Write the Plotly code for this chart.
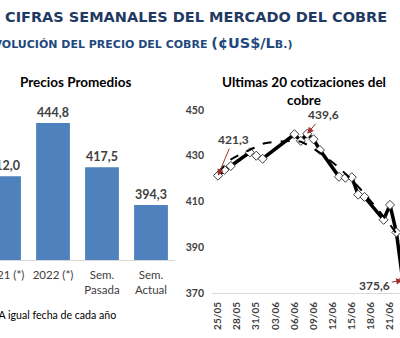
import plotly.graph_objects as go

# ---- data ----
bar_categories = ["2021 (*)", "2022 (*)", "Sem.<br>Pasada", "Sem.<br>Actual"]
bar_values = [412.0, 444.8, 417.5, 394.3]

dates = ["2022-05-25", "2022-05-26", "2022-05-27", "2022-05-30", "2022-05-31",
         "2022-06-01", "2022-06-06", "2022-06-07", "2022-06-08", "2022-06-09",
         "2022-06-10", "2022-06-13", "2022-06-14", "2022-06-15", "2022-06-16",
         "2022-06-17", "2022-06-20", "2022-06-21", "2022-06-22", "2022-06-23"]
prices = [421.3, 423.8, 425.5, 431.5, 430.0, 428.7, 439.4, 436.5, 439.6, 437.2,
          432.5, 420.8, 420.4, 420.6, 413.0, 412.0, 402.0, 408.5, 396.5, 375.6]
trend = [422.6, 425.6, 428.3, 432.6, 433.9, 435.2, 436.5, 436.1, 434.8, 433.1,
         431.3, 424.8, 422.1, 419.5, 416.5, 413.4, 403.4, 399.9, 395.9, 391.6]

y_ticks = [370, 390, 410, 430, 450]

W, H = 400, 338
def px(x):
    return x / W
def py(y):
    return 1 - y / H

TXT = "#404040"
FONT = "Lato"

fig = go.Figure()

fig.add_trace(go.Bar(
    x=list(range(len(bar_categories))), y=bar_values,
    marker=dict(color="#4F81BD", line=dict(width=0)),
    texttemplate="<b>%{y:.1f}</b>", textposition="outside",
    textfont=dict(family=FONT, size=12.5, color=TXT),
    cliponaxis=False, xaxis="x", yaxis="y", width=0.69,
    showlegend=False, hoverinfo="skip",
))

fig.add_trace(go.Scatter(
    x=dates, y=prices, mode="lines+markers",
    line=dict(color="black", width=3.5),
    marker=dict(symbol="diamond", size=7, color="white",
                line=dict(color="#404040", width=1)),
    xaxis="x2", yaxis="y2", showlegend=False, cliponaxis=True,
))
fig.add_trace(go.Scatter(
    x=dates, y=trend, mode="lines",
    line=dict(color="black", width=2, dash="dash", shape="spline"),
    xaxis="x2", yaxis="y2", showlegend=False,
))

ann_font = dict(family=FONT, size=12, color=TXT)
arrow = dict(arrowcolor="#A0302B", arrowwidth=1, arrowhead=2, arrowsize=1.3)

annotations = [
    dict(text="<b>CIFRAS SEMANALES DEL MERCADO DEL COBRE</b>", xref="paper", yref="paper",
         x=px(3), y=py(17), xanchor="left", yanchor="middle", showarrow=False,
         font=dict(family="DejaVu Sans", size=14.5, color="#1F3A63")),
    dict(text="<b>EVOLUCIÓN DEL PRECIO DEL COBRE <span style='font-size:14.5px'>(¢US$/L</span>B.)</b>",
         xref="paper", yref="paper",
         x=px(294), y=py(43), xanchor="right", yanchor="middle", showarrow=False,
         font=dict(family="DejaVu Sans", size=11, color="#1F497D")),
    dict(text="<b>Precios Promedios</b>", xref="paper", yref="paper",
         x=px(75), y=py(82), xanchor="center", yanchor="middle", showarrow=False,
         font=dict(family=FONT, size=13.5, color="black")),
    dict(text="<b>Ultimas 20 cotizaciones del<br>cobre</b>", xref="paper", yref="paper",
         x=px(304), y=py(91), xanchor="center", yanchor="middle", showarrow=False,
         font=dict(family=FONT, size=13.5, color="black")),
    dict(text="(*) A igual fecha de cada año", xref="paper", yref="paper",
         x=px(118), y=py(315), xanchor="right", yanchor="middle", showarrow=False,
         font=dict(family=FONT, size=10.6, color="black")),
    dict(text="<b>421,3</b>", xref="x2", yref="y2", x=dates[0], y=prices[0],
         ax=15, ay=-36, font=ann_font, showarrow=True, **arrow),
    dict(text="<b>439,6</b>", xref="x2", yref="y2", x=dates[8], y=prices[8],
         ax=16, ay=-19, font=ann_font, showarrow=True, **arrow),
    dict(text="<b>375,6</b>", xref="x2", yref="y2", x=dates[-1], y=prices[-1],
         axref="x2", ayref="y2", ax="2022-06-18 15:00", ay=373.4,
         font=ann_font, showarrow=True, **arrow),
]

fig.update_layout(
    width=W, height=H, margin=dict(l=0, r=0, t=0, b=0, autoexpand=False),
    paper_bgcolor="white", plot_bgcolor="white",
    separators=",.",
    font=dict(family=FONT, color=TXT),
    xaxis=dict(domain=[0, px(175)], range=[-0.082, 3.49],
               tickmode="array", tickvals=list(range(len(bar_categories))),
               ticktext=bar_categories, ticklabeloverflow="allow",
               automargin=False,
               showline=True, linecolor="#D9D9D9", linewidth=1,
               ticks="", showgrid=False, zeroline=False, fixedrange=True,
               ticklabelstandoff=4,
               tickfont=dict(family=FONT, size=11.5, color=TXT)),
    yaxis=dict(domain=[py(260), py(100)], range=[360.5, 458.9], visible=False,
               fixedrange=True, automargin=False),
    xaxis2=dict(domain=[px(212), 1.0], range=["2022-05-24 01:24", "2022-06-22 13:40"],
                type="date", tick0="2022-05-25", dtick=3 * 86400000,
                tickformat="%d/%m", tickangle=-90, automargin=False,
                showline=True, linecolor="#D9D9D9", linewidth=1,
                ticks="", showgrid=False, zeroline=False, anchor="y2",
                tickfont=dict(family=FONT, size=10, color=TXT, weight="bold"),
                ticklabelstandoff=4),
    yaxis2=dict(domain=[py(293), py(110)], range=[370, 450],
                tickvals=y_ticks, showgrid=False, zeroline=False, showline=False,
                anchor="x2", ticks="", automargin=False,
                tickfont=dict(family=FONT, size=10.5, color=TXT, weight="bold"),
                ticklabelstandoff=7),
    annotations=annotations,
)

fig.write_html("out.html")
